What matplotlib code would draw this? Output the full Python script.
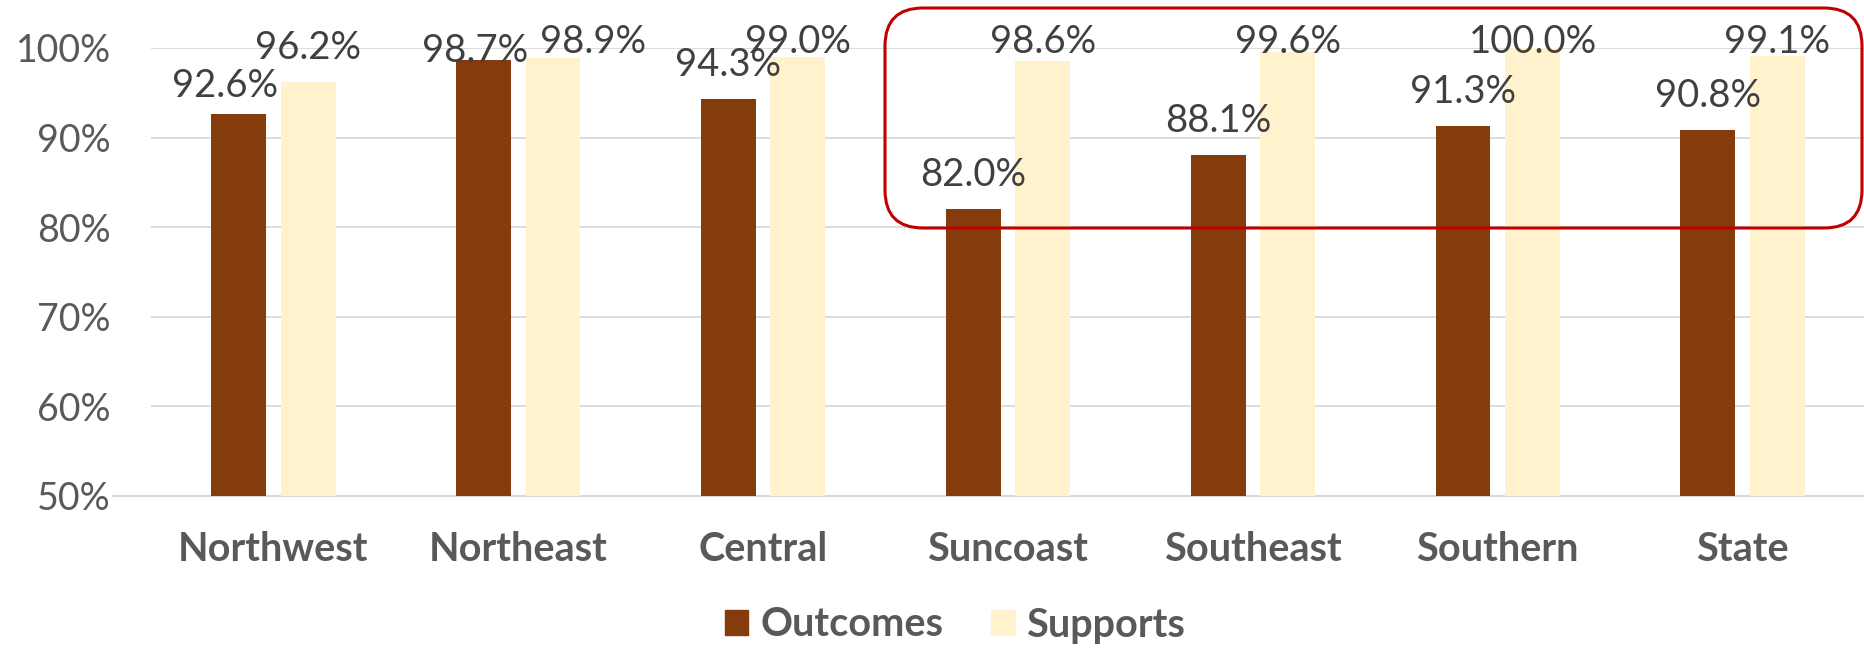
import matplotlib
matplotlib.use("Agg")
import matplotlib.pyplot as plt
import numpy as np
from matplotlib.patches import FancyBboxPatch, Patch
from matplotlib.transforms import IdentityTransform

plt.rcParams["font.family"] = ["Lato", "DejaVu Sans"]

regions = ["Northwest", "Northeast", "Central", "Suncoast", "Southeast", "Southern", "State"]
outcomes = [92.6, 98.7, 94.3, 82.0, 88.1, 91.3, 90.8]
supports = [96.2, 98.9, 99.0, 98.6, 99.6, 100.0, 99.1]

OUT_COLOR = "#843C0C"
SUP_COLOR = "#FFF2CC"
TICK_COLOR = "#595959"
LABEL_COLOR = "#404040"
GRID_COLOR = "#D9D9D9"

# label nudges in pixels (dx, dy down), to mimic the hand-placed labels
out_nudge = [(-14, 6), (-8, 9), (0, 0), (0, 0), (0, 0), (0, 0), (0, 0)]
sup_nudge = [(0, 0), (40, 0), (0, 0), (0, 0), (0, 0), (0, 0), (0, 0)]

W, H, DPI = 1865, 649, 100
fig = plt.figure(figsize=(W / DPI, H / DPI), dpi=DPI)
ax = fig.add_axes([151 / W, 1 - 496 / H, 1714 / W, 448 / H])

x = np.arange(len(regions))
bw = 0.224
off = 0.142
ax.bar(x - off, outcomes, bw, color=OUT_COLOR, zorder=2, label="Outcomes")
ax.bar(x + off, supports, bw, color=SUP_COLOR, zorder=2, label="Supports")

ax.set_xlim(-0.5, len(regions) - 0.5)
ax.set_ylim(50, 100)
ax.set_yticks([50, 60, 70, 80, 90, 100])
ax.set_yticklabels([f"{v}%" for v in [50, 60, 70, 80, 90, 100]])
ax.yaxis.grid(True, color=GRID_COLOR, linewidth=1.3, zorder=0)
ax.set_axisbelow(True)
for s in ax.spines.values():
    s.set_visible(False)
ax.axhline(50, xmin=-(151 - 113) / 1714, xmax=1, color=GRID_COLOR,
           linewidth=1.5, clip_on=False, zorder=1)

ax.tick_params(axis="y", length=0, pad=29, labelsize=27, labelcolor=TICK_COLOR)
ax.tick_params(axis="x", length=0, pad=25, labelsize=28.5, labelcolor=TICK_COLOR)
ax.set_xticks(x)
ax.set_xticklabels(regions, fontweight="bold")

gap = 2.57      # label baseline above bar top, in % units
top_cap = 99.44  # labels are kept inside the top


def put_labels(xs, vals, nudges):
    for xi, v, (dx, dy) in zip(xs, vals, nudges):
        ax.annotate(f"{v:.1f}%", xy=(xi, min(v + gap, top_cap)),
                    xytext=(dx, -dy), textcoords="offset pixels",
                    ha="center", va="baseline", fontsize=27.5,
                    color=LABEL_COLOR, annotation_clip=False, zorder=3)


put_labels(x - off, outcomes, out_nudge)
put_labels(x + off, supports, sup_nudge)

# red rounded highlight box around the southern regions
box = FancyBboxPatch((885, H - 228), 1862 - 885, 220,
                     boxstyle="round,pad=0,rounding_size=38",
                     transform=IdentityTransform(), fill=False,
                     edgecolor="#C00000", linewidth=2.2)
fig.add_artist(box)

handles = [Patch(color=OUT_COLOR), Patch(color=SUP_COLOR)]
leg = fig.legend(handles, ["Outcomes", "Supports"], loc="center",
                 bbox_to_anchor=(955 / W, 1 - 625 / H), ncol=2, frameon=False,
                 prop={"size": 28.5, "weight": "bold"}, handlelength=0.6,
                 handleheight=0.6, handletextpad=0.3, columnspacing=1.2)
for t in leg.get_texts():
    t.set_color(TICK_COLOR)

fig.savefig("out.png", dpi=DPI)
